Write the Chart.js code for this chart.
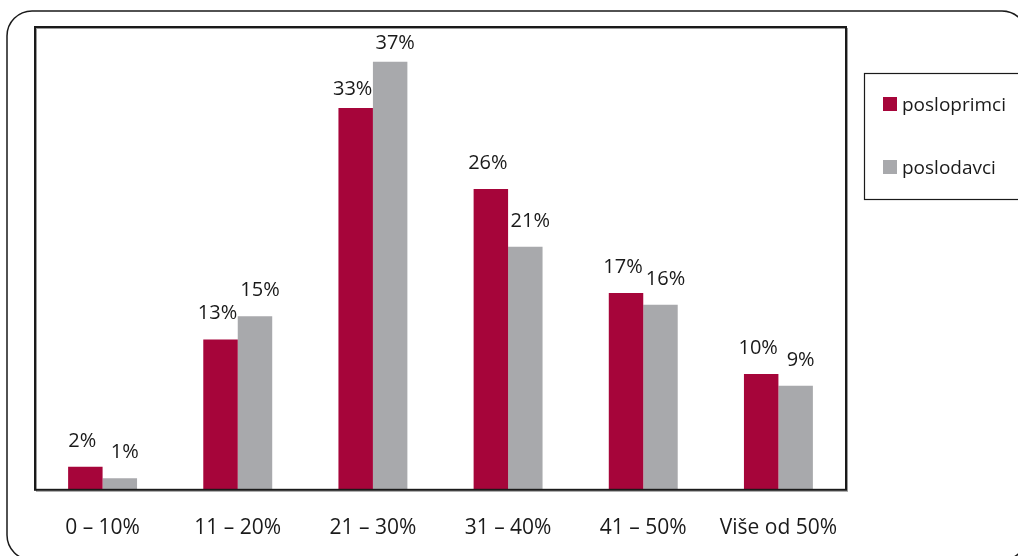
<!DOCTYPE html>
<html>
<head>
<meta charset="utf-8">
<script src="https://cdn.jsdelivr.net/npm/chart.js@4"></script>
<style>
    html, body { margin: 0; padding: 0; background: #fff; }
    #wrap { width: 1018px; height: 556px; }
</style>
</head>
<body>
<div id="wrap"><canvas id="chart"></canvas></div>
<script>
const categories = ['0 – 10%', '11 – 20%', '21 – 30%', '31 – 40%', '41 – 50%', 'Više od 50%'];
const posloprimci = [2, 13, 33, 26, 17, 10];
const poslodavci = [1, 15, 37, 21, 16, 9];
const seriesNames = ['posloprimci', 'poslodavci'];

const FONT = '"Open Sans", "Noto Sans", sans-serif';

// outer rounded frame
const framePlugin = {
    id: 'frame',
    beforeDraw(chart) {
        const ctx = chart.ctx;
        ctx.save();
        ctx.fillStyle = '#fff';
        ctx.fillRect(0, 0, chart.width, chart.height);
        ctx.strokeStyle = '#1a1a1a';
        ctx.lineWidth = 1.5;
        ctx.beginPath();
        ctx.roundRect(7, 11, 1020, 549, 25);
        ctx.stroke();
        ctx.restore();
    },
    afterDraw(chart) {
        const ctx = chart.ctx;
        const a = chart.chartArea;
        ctx.save();
        // soft shadow line, then the dark border of the plot box
        ctx.strokeStyle = '#9a9a9a';
        ctx.lineWidth = 1;
        ctx.strokeRect(a.left + 1.5, a.top + 1.5, a.right - a.left, a.bottom - a.top);
        ctx.strokeStyle = '#1a1a1a';
        ctx.lineWidth = 2;
        ctx.strokeRect(a.left, a.top, a.right - a.left, a.bottom - a.top);
        ctx.restore();
    }
};

// value labels over bars
const valueLabels = {
    id: 'valueLabels',
    afterDatasetsDraw(chart) {
        const ctx = chart.ctx;
        ctx.save();
        ctx.font = '20px ' + FONT;
        ctx.fillStyle = '#1a1a1a';
        ctx.textAlign = 'center';
        ctx.textBaseline = 'alphabetic';
        chart.data.datasets.forEach((ds, di) => {
            chart.getDatasetMeta(di).data.forEach((bar, i) => {
                const gap = bar.y < 150 ? 13 : 20;
                const shift = di === 0 ? -3 : 5;
                ctx.fillText(ds.data[i] + '%', bar.x + shift, bar.y - gap);
            });
        });
        ctx.restore();
    }
};

// boxed legend on the right
const boxLegend = {
    id: 'boxLegend',
    afterDraw(chart) {
        const ctx = chart.ctx;
        ctx.save();
        ctx.strokeStyle = '#1a1a1a';
        ctx.lineWidth = 1.2;
        ctx.strokeRect(864.5, 73.5, 170, 126);
        ctx.font = '19px ' + FONT;
        ctx.textBaseline = 'alphabetic';
        chart.data.datasets.forEach((ds, i) => {
            const y = 97 + i * 63;
            ctx.fillStyle = ds.backgroundColor;
            ctx.fillRect(883, y, 14, 14);
            ctx.fillStyle = '#1a1a1a';
            ctx.fillText(ds.label, 902, y + 14);
        });
        ctx.restore();
    }
};

new Chart(document.getElementById('chart'), {
    type: 'bar',
    data: {
        labels: categories,
        datasets: [
            {
                label: seriesNames[0],
                data: posloprimci,
                backgroundColor: '#A6053A',
                categoryPercentage: 0.51,
                barPercentage: 1.0
            },
            {
                label: seriesNames[1],
                data: poslodavci,
                backgroundColor: '#A8A9AC',
                categoryPercentage: 0.51,
                barPercentage: 1.0
            }
        ]
    },
    options: {
        responsive: true,
        maintainAspectRatio: false,
        animation: false,
        layout: {
            padding: { left: 35, top: 27, right: 172, bottom: -3 }
        },
        plugins: {
            legend: { display: false },
            tooltip: { enabled: false }
        },
        scales: {
            x: {
                grid: { display: false },
                border: { display: false },
                ticks: {
                    color: '#1a1a1a',
                    padding: 18,
                    font: { family: FONT, size: 21 }
                }
            },
            y: {
                display: false,
                min: 0,
                max: 40
            }
        }
    },
    plugins: [framePlugin, valueLabels, boxLegend]
});
</script>
</body>
</html>
